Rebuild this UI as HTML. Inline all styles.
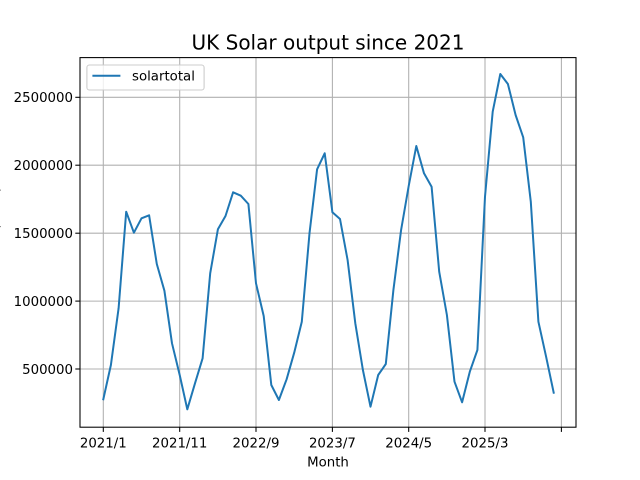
<!DOCTYPE html>
<html><head><meta charset="utf-8"><style>
html,body{margin:0;padding:0;background:#fff;}
svg{display:block;}
text{font-family:"DejaVu Sans","Liberation Sans",sans-serif;fill:#000;}
</style></head><body>
<svg width="640" height="480" viewBox="0 0 640 480" xmlns="http://www.w3.org/2000/svg">
<rect width="640" height="480" fill="#fff"/>
<!-- grid -->
<g stroke="#b0b0b0" stroke-width="1.07">
<line x1="103.3" y1="57.6" x2="103.3" y2="427.2"/>
<line x1="179.7" y1="57.6" x2="179.7" y2="427.2"/>
<line x1="256" y1="57.6" x2="256" y2="427.2"/>
<line x1="332.4" y1="57.6" x2="332.4" y2="427.2"/>
<line x1="408.7" y1="57.6" x2="408.7" y2="427.2"/>
<line x1="485" y1="57.6" x2="485" y2="427.2"/>
<line x1="561.4" y1="57.6" x2="561.4" y2="427.2"/>
<line x1="80" y1="369" x2="576" y2="369"/>
<line x1="80" y1="301.1" x2="576" y2="301.1"/>
<line x1="80" y1="233.2" x2="576" y2="233.2"/>
<line x1="80" y1="165.2" x2="576" y2="165.2"/>
<line x1="80" y1="97.3" x2="576" y2="97.3"/>
</g>
<!-- series -->
<polyline fill="none" stroke="#1f77b4" stroke-width="2" stroke-linejoin="round" stroke-linecap="square" points="
103.3,399.3 110.9,365 118.6,308.3 126.2,211.7 133.9,232.7 141.5,218.3 149.1,215.3 156.8,264 164.4,290.7 172,343.3 179.7,375 187.3,409.3 195,383.3 202.6,358.3 210.2,273.3 217.9,229.3 225.5,216 233.1,192.3 240.8,195.7 248.4,204 256,283.3 263.7,316 271.3,385 278.9,400 286.6,379.3 294.2,352.7 301.8,321.7 309.5,233.3 317.1,169.3 324.7,153.3 332.4,212.3 340,219 347.6,260 355.3,323.3 362.9,370 370.5,406.7 378.2,375 385.8,364 393.4,290 401.1,230 408.7,186 416.3,146 424,173.3 431.6,186.7 439.2,271.7 446.9,315 454.5,381.7 462.1,402.3 469.8,371.7 477.4,350 485,196.7 492.7,111.7 500.3,74 507.9,84 515.6,115 523.2,137.3 530.8,201.7 538.4,321.7 546.1,356.7 553.7,392.7"/>
<!-- axes frame -->
<rect x="80" y="57.6" width="496" height="369.6" fill="none" stroke="#000" stroke-width="1.07"/>
<!-- ticks -->
<g stroke="#000" stroke-width="1.07">
<line x1="103.3" y1="427.2" x2="103.3" y2="431.9"/>
<line x1="179.7" y1="427.2" x2="179.7" y2="431.9"/>
<line x1="256" y1="427.2" x2="256" y2="431.9"/>
<line x1="332.4" y1="427.2" x2="332.4" y2="431.9"/>
<line x1="408.7" y1="427.2" x2="408.7" y2="431.9"/>
<line x1="485" y1="427.2" x2="485" y2="431.9"/>
<line x1="561.4" y1="427.2" x2="561.4" y2="431.9"/>
<line x1="75.3" y1="369" x2="80" y2="369"/>
<line x1="75.3" y1="301.1" x2="80" y2="301.1"/>
<line x1="75.3" y1="233.2" x2="80" y2="233.2"/>
<line x1="75.3" y1="165.2" x2="80" y2="165.2"/>
<line x1="75.3" y1="97.3" x2="80" y2="97.3"/>
</g>
<g font-size="13.33" text-anchor="middle">
<text x="103.3" y="447.5">2021/1</text>
<text x="179.7" y="447.5">2021/11</text>
<text x="256" y="447.5">2022/9</text>
<text x="332.4" y="447.5">2023/7</text>
<text x="408.7" y="447.5">2024/5</text>
<text x="485" y="447.5">2025/3</text>
</g>
<g font-size="13.33" text-anchor="end">
<text x="73" y="373.8">500000</text>
<text x="73" y="305.9">1000000</text>
<text x="73" y="238">1500000</text>
<text x="73" y="170">2000000</text>
<text x="73" y="102.1">2500000</text>
</g>
<text x="328" y="466.7" font-size="13.33" text-anchor="middle">Month</text>
<text x="328" y="49.6" font-size="20" text-anchor="middle">UK Solar output since 2021</text>
<text transform="translate(-1.5,242) rotate(-90)" font-size="13.33" text-anchor="middle">solartotal (MWh)</text>
<!-- legend -->
<rect x="86.9" y="65" width="117.2" height="25" rx="2.5" fill="#fff" fill-opacity="0.8" stroke="#cccccc" stroke-width="1.07"/>
<line x1="92.4" y1="75.7" x2="120.4" y2="75.7" stroke="#1f77b4" stroke-width="2"/>
<text x="132" y="80.6" font-size="13.33">solartotal</text>
</svg>
</body></html>
